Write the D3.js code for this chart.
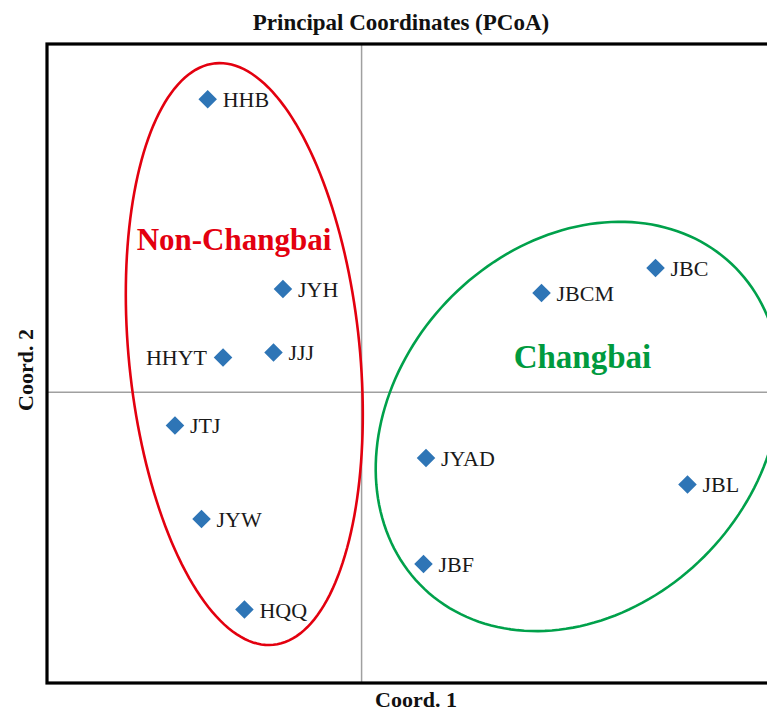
<!DOCTYPE html>
<html>
<head>
<meta charset="utf-8">
<script src="https://cdn.jsdelivr.net/npm/d3@7"></script>
<style>
  html, body { margin: 0; padding: 0; background: #fff; }
  svg { display: block; }
  text { font-family: "Liberation Serif", "Times New Roman", serif; }
</style>
</head>
<body>
<script>
// PCoA sample scores (Coord. 1, Coord. 2)
const samples = ["HHB", "JYH", "HHYT", "JJJ", "JTJ", "JYW", "HQQ", "JBCM", "JBC", "JYAD", "JBL", "JBF"];
const coord1  = [-0.1223, -0.0625, -0.1101, -0.0700, -0.1483, -0.1272, -0.0931, 0.1430, 0.2336, 0.0512, 0.2590, 0.0492];
const coord2  = [ 0.1834,  0.0646,  0.0218,  0.0249, -0.0208, -0.0793, -0.1360, 0.0621, 0.0778, -0.0412, -0.0577, -0.1075];
// label sits left of the marker for these samples
const leftLabels = ["HHYT"];

// Group outlines: centre plus two conjugate semi-diameters, all in coordinate units
const groupNames   = ["Non-Changbai", "Changbai"];
const groupCenter  = [[-0.0932, 0.0239], [0.1720, -0.0214]];
const groupAxisA   = [[ 0.0231, -0.1820], [0.1221,  0.1017]];
const groupAxisB   = [[ 0.0913,  0.0072], [0.1046, -0.0779]];
const groupLabelAt = [[-0.1014, 0.0890], [0.1755, 0.0152]];

const groupColors  = ["#e3000f", "#00a14b"];
const groupText    = ["#e3000f", "#009a3e"];
const groupFont    = [31, 33];

const xDomain = [-0.25, 0.35];
const yDomain = [-0.182, 0.218];

const W = 767, H = 711;
const plot = { left: 47, top: 44, right: 802, bottom: 683 };

const svg = d3.select("body").append("svg")
  .attr("width", W).attr("height", H);

const x = d3.scaleLinear().domain(xDomain).range([plot.left, plot.right]);
const y = d3.scaleLinear().domain(yDomain).range([plot.bottom, plot.top]);

// zero axes
svg.append("line")
  .attr("x1", x(0)).attr("x2", x(0))
  .attr("y1", plot.top).attr("y2", plot.bottom)
  .attr("stroke", "#a0a0a0").attr("stroke-width", 1.5);
svg.append("line")
  .attr("x1", plot.left).attr("x2", plot.right)
  .attr("y1", y(0)).attr("y2", y(0))
  .attr("stroke", "#a0a0a0").attr("stroke-width", 1.5);

// group ellipses traced in coordinate space
const tSteps = d3.range(0, 360, 2).map(d => d * Math.PI / 180);
const line = d3.line().x(d => x(d[0])).y(d => y(d[1])).curve(d3.curveLinearClosed);
groupNames.forEach((g, i) => {
  const c = groupCenter[i], a = groupAxisA[i], b = groupAxisB[i];
  const ring = tSteps.map(t => [
    c[0] + a[0] * Math.cos(t) + b[0] * Math.sin(t),
    c[1] + a[1] * Math.cos(t) + b[1] * Math.sin(t)
  ]);
  svg.append("path")
    .attr("d", line(ring))
    .attr("fill", "none")
    .attr("stroke", groupColors[i])
    .attr("stroke-width", 2.6);
  svg.append("text")
    .attr("x", x(groupLabelAt[i][0]))
    .attr("y", y(groupLabelAt[i][1]))
    .attr("text-anchor", "middle")
    .attr("font-weight", "bold")
    .attr("font-size", groupFont[i])
    .attr("fill", groupText[i])
    .text(g);
});

// sample markers
const pts = samples.map((s, i) => ({ name: s, cx: coord1[i], cy: coord2[i] }));
const diamond = d3.symbol().type(d3.symbolSquare).size(172);
svg.selectAll("path.pt").data(pts).join("path")
  .attr("class", "pt")
  .attr("d", diamond)
  .attr("transform", d => `translate(${x(d.cx)},${y(d.cy)}) rotate(45)`)
  .attr("fill", "#2e75b6");

svg.selectAll("text.lbl").data(pts).join("text")
  .attr("class", "lbl")
  .attr("x", d => leftLabels.includes(d.name) ? x(d.cx) - 16 : x(d.cx) + 15)
  .attr("y", d => y(d.cy) + 8)
  .attr("text-anchor", d => leftLabels.includes(d.name) ? "end" : "start")
  .attr("font-size", 22)
  .attr("fill", "#1a1a1a")
  .text(d => d.name);

// frame
svg.append("rect")
  .attr("x", plot.left).attr("y", plot.top)
  .attr("width", plot.right - plot.left)
  .attr("height", plot.bottom - plot.top)
  .attr("fill", "none")
  .attr("stroke", "#000")
  .attr("stroke-width", 3.2);

// titles
svg.append("text")
  .attr("x", 401).attr("y", 30)
  .attr("text-anchor", "middle")
  .attr("font-weight", "bold").attr("font-size", 23)
  .attr("fill", "#111")
  .text("Principal Coordinates (PCoA)");
svg.append("text")
  .attr("x", 416).attr("y", 707)
  .attr("text-anchor", "middle")
  .attr("font-weight", "bold").attr("font-size", 22)
  .attr("fill", "#111")
  .text("Coord. 1");
svg.append("text")
  .attr("transform", "translate(33,370) rotate(-90)")
  .attr("text-anchor", "middle")
  .attr("font-weight", "bold").attr("font-size", 22)
  .attr("fill", "#111")
  .text("Coord. 2");
</script>
</body>
</html>
